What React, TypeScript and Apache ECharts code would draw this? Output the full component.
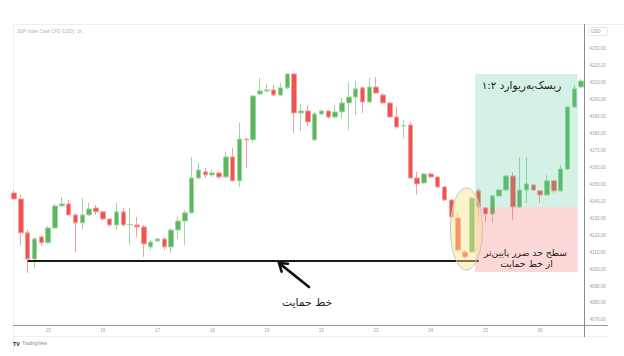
import React, { useEffect, useRef } from 'react';
import * as echarts from 'echarts';

// ---- data ----
const dayNames = ['12', '15', '16', '17', '18', '19', '22', '23', '24', '25', '26'];
const barsPerDay = [5, 8, 8, 8, 8, 8, 8, 8, 8, 8, 7];
const sessionHours = ['09', '10', '11', '12', '13', '14', '15', '16'];

const opens = [
  4145.0, 4141.4, 4121.4, 4106.0, 4119.0, 4115.5, 4124.3, 4137.3, 4138.5, 4132.0,
  4127.3, 4132.0, 4136.1, 4133.8, 4129.6, 4126.1, 4133.8, 4126.1, 4126.1, 4124.9,
  4113.1, 4116.6, 4117.8, 4113.1, 4123.1, 4128.4, 4133.2, 4153.8, 4157.4, 4155.6,
  4156.8, 4154.4, 4166.2, 4152.1, 4176.8, 4176.3, 4203.4, 4205.2, 4205.8, 4202.8,
  4207.0, 4215.2, 4192.2, 4193.4, 4176.3, 4191.6, 4193.4, 4189.8, 4192.8, 4198.1,
  4201.6, 4207.0, 4198.7, 4207.5, 4202.8, 4198.1, 4189.8, 4184.5, 4185.1, 4153.8,
  4150.9, 4156.2, 4154.4, 4148.5, 4140.8, 4130.2, 4110.1, 4110.1, 4146.2, 4136.1,
  4132.6, 4143.2, 4146.7, 4155.0, 4136.7, 4146.7, 4149.7, 4146.2, 4143.8, 4152.1,
  4146.2, 4159.1, 4195.7, 4207.5,
];
const closes = [
  4141.4, 4121.4, 4106.0, 4117.8, 4115.5, 4124.3, 4137.3, 4138.5, 4132.0, 4127.3,
  4132.0, 4135.5, 4133.8, 4129.6, 4126.1, 4133.8, 4126.1, 4126.4, 4124.9, 4114.9,
  4116.0, 4117.8, 4113.1, 4123.1, 4128.4, 4133.2, 4153.8, 4158.5, 4155.6, 4156.8,
  4154.4, 4166.2, 4152.1, 4176.8, 4176.3, 4202.2, 4205.2, 4205.8, 4202.8, 4207.0,
  4215.2, 4192.2, 4193.4, 4186.9, 4191.6, 4193.4, 4189.8, 4192.8, 4198.1, 4201.6,
  4206.4, 4198.7, 4207.5, 4204.0, 4198.1, 4189.8, 4183.9, 4184.8, 4153.8, 4150.3,
  4156.2, 4154.4, 4148.5, 4140.8, 4130.8, 4111.3, 4107.2, 4142.0, 4136.7, 4132.6,
  4143.2, 4146.7, 4155.0, 4136.7, 4146.7, 4150.3, 4146.7, 4143.8, 4152.1, 4146.2,
  4159.1, 4195.7, 4206.4, 4211.1,
];
const lows = [
  4140.8, 4113.7, 4097.7, 4100.7, 4113.7, 4115.2, 4123.7, 4136.7, 4131.4, 4110.1,
  4123.7, 4131.4, 4132.0, 4128.4, 4124.9, 4123.1, 4124.9, 4114.3, 4119.0, 4107.2,
  4111.3, 4116.0, 4111.3, 4109.6, 4117.8, 4114.3, 4132.6, 4153.2, 4153.8, 4154.4,
  4153.2, 4153.8, 4151.5, 4148.5, 4159.7, 4174.5, 4202.8, 4204.6, 4202.2, 4202.2,
  4206.4, 4180.4, 4181.6, 4184.5, 4175.7, 4191.0, 4188.7, 4188.7, 4189.2, 4182.2,
  4191.0, 4192.2, 4198.1, 4203.4, 4197.5, 4189.2, 4182.8, 4177.4, 4153.2, 4143.8,
  4150.3, 4153.8, 4147.9, 4140.2, 4130.2, 4109.6, 4106.6, 4109.6, 4130.8, 4127.9,
  4127.3, 4142.6, 4146.2, 4129.0, 4136.1, 4139.1, 4146.2, 4139.1, 4143.2, 4145.0,
  4145.6, 4158.5, 4195.1, 4207.0,
];
const highs = [
  4146.2, 4143.8, 4123.1, 4119.0, 4120.2, 4125.5, 4138.5, 4142.6, 4140.8, 4133.2,
  4142.0, 4139.1, 4137.9, 4134.3, 4130.2, 4139.1, 4136.1, 4136.1, 4130.8, 4126.1,
  4117.2, 4118.4, 4119.0, 4124.3, 4130.8, 4134.9, 4166.2, 4162.7, 4159.7, 4158.5,
  4157.4, 4169.2, 4171.5, 4186.3, 4177.4, 4202.8, 4212.9, 4209.3, 4208.7, 4209.9,
  4215.8, 4215.8, 4197.5, 4196.9, 4192.8, 4194.0, 4194.0, 4196.9, 4201.1, 4210.5,
  4211.1, 4208.1, 4212.9, 4213.4, 4204.0, 4198.7, 4195.7, 4188.1, 4186.9, 4157.4,
  4156.8, 4156.8, 4155.0, 4149.1, 4141.4, 4133.2, 4111.3, 4142.6, 4147.9, 4136.7,
  4143.8, 4147.3, 4155.6, 4157.4, 4166.2, 4166.2, 4150.3, 4146.7, 4155.6, 4152.6,
  4161.5, 4196.3, 4208.7, 4212.3,
];

const yTickValues = [4070, 4080, 4090, 4100, 4110, 4120, 4130, 4140, 4150, 4160, 4170, 4180, 4190, 4200, 4210, 4220, 4230];

const supportPrice = 4105.1;
const supportFrom = 2;
const supportTo = 68;
const entryPrice = 4136.7;
const targetPrice = 4215.2;
const stopPrice = 4098.3;
const rrStartIndex = 67.5;
const rrEndIndex = 83;
const ellipseIndex = 66;
const ellipseTop = 4147.9;
const ellipseBottom = 4099.5;

const titleText = 'S&P Index Cash CFD (USD), 1h,';
const rrText = 'ریسک‌به‌ریوارد ۱:۲';
const stopText1 = 'سطح حد ضرر پایین‌تر';
const stopText2 = 'از خط حمایت';
const supportText = 'خط حمایت';

// build categories
const categories: string[] = [];
const dayStartIdx: Record<number, string> = {};
dayNames.forEach((d, di) => {
  const n = barsPerDay[di];
  const hrs = di === 0 ? sessionHours.slice(sessionHours.length - n) : sessionHours.slice(0, n);
  if (di > 0) dayStartIdx[categories.length] = d;
  hrs.forEach((h) => categories.push(`${d} ${h}:00`));
});

const UP = '#5cb660';
const DOWN = '#ef5350';
const UP_W = '#9fd6a2';
const DOWN_W = '#f5a09e';

export default function App() {
  const ref = useRef<HTMLDivElement>(null);
  useEffect(() => {
    if (!ref.current) return;
    const chart = echarts.init(ref.current, null, { renderer: 'svg' });
    const candleData = opens.map((o, i) => [o, closes[i], lows[i], highs[i]]);
    chart.setOption({
      animation: false,
      backgroundColor: '#ffffff',
      grid: { left: 10.6, right: 39.5, top: 24, bottom: 31 },
      xAxis: {
        type: 'category',
        data: categories,
        boundaryGap: true,
        axisLine: { show: false },
        axisTick: { show: false },
        splitLine: { show: false },
        axisLabel: {
          interval: (idx: number) => dayStartIdx[idx] !== undefined,
          formatter: (v: string) => v.split(' ')[0],
          fontSize: 4.5,
          color: '#a0a0a0',
          fontFamily: 'Liberation Sans, Arial, sans-serif',
          margin: 3,
        },
      },
      yAxis: {
        type: 'value',
        position: 'right',
        min: 4067,
        max: 4244.7,
        axisLine: { show: false },
        axisTick: { show: false },
        splitLine: { show: false },
        axisLabel: {
          customValues: yTickValues,
          formatter: (v: number) => v.toFixed(2),
          fontSize: 4.5,
          color: '#a0a0a0',
          fontFamily: 'Liberation Sans, Arial, sans-serif',
          margin: 5,
        },
      },
      series: [
        {
          type: 'candlestick',
          data: candleData,
          barWidth: 5,
          itemStyle: {
            color: UP,
            color0: DOWN,
            borderColor: UP_W,
            borderColor0: DOWN_W,
            borderWidth: 1,
          },
          markLine: {
            silent: true,
            symbol: ['none', 'none'],
            label: { show: false },
            lineStyle: { color: '#1a1a1a', width: 2, type: 'solid' },
            data: [[{ coord: [supportFrom, supportPrice] }, { coord: [supportTo, supportPrice] }]],
          },
        },
      ],
    });

    const P = (i: number, v: number) => chart.convertToPixel({ seriesIndex: 0 }, [i, v]) as number[];
    const step = P(1, 4100)[0] - P(0, 4100)[0];
    const x0 = (P(Math.floor(rrStartIndex), entryPrice)[0] + P(Math.ceil(rrStartIndex), entryPrice)[0]) / 2;
    const x1 = P(rrEndIndex, entryPrice)[0] - step / 2;
    const yT = P(0, targetPrice)[1];
    const yE = P(0, entryPrice)[1];
    const yS = P(0, stopPrice)[1];
    const ec = P(ellipseIndex, ellipseTop);
    const eb = P(ellipseIndex, ellipseBottom);
    const gridR = P(categories.length - 1, 4100)[0] + step / 2;
    const gridB = P(0, 4067)[1];

    // arrow
    const tail = [309, 287];
    const tip = [279, 263];
    const dx = tip[0] - tail[0];
    const dy = tip[1] - tail[1];
    const len = Math.sqrt(dx * dx + dy * dy);
    const ux = dx / len;
    const uy = dy / len;
    const wing = (ang: number) => {
      const c = Math.cos(ang);
      const s = Math.sin(ang);
      const bx = -(ux * c - uy * s);
      const by = -(ux * s + uy * c);
      return [tip[0] + bx * 9, tip[1] + by * 9];
    };
    const w1 = wing(0.6);
    const w2 = wing(-0.6);

    const persian = 'DejaVu Sans, Noto Sans, sans-serif';

    chart.setOption({
      graphic: [
        { type: 'line', z: 1, shape: { x1: 13, y1: 24.5, x2: 624, y2: 24.5 }, style: { stroke: '#eeeeee', lineWidth: 1 } },
        { type: 'line', z: 1, shape: { x1: 13.5, y1: 24, x2: 13.5, y2: 352 }, style: { stroke: '#eeeeee', lineWidth: 1 } },
        { type: 'line', z: 1, shape: { x1: 13, y1: 336.5, x2: 608, y2: 336.5 }, style: { stroke: '#f0f0f0', lineWidth: 1 } },
        { type: 'line', z: 20, shape: { x1: 13, y1: gridB + 0.5, x2: 608, y2: gridB + 0.5 }, style: { stroke: '#9a9a9a', lineWidth: 1 } },
        { type: 'line', z: 20, shape: { x1: gridR, y1: 24, x2: gridR, y2: 337 }, style: { stroke: '#8a8a8a', lineWidth: 1 } },
        { type: 'text', z: 20, x: 17, y: 31, style: { text: titleText, fontSize: 4.5, fill: '#b0b0b0', fontFamily: 'Liberation Sans, Arial, sans-serif', verticalAlign: 'middle' } },
        { type: 'rect', z: 20, shape: { x: 588.5, y: 27.5, width: 19, height: 8, r: 1 }, style: { fill: '#ffffff', stroke: '#e6e6e6', lineWidth: 1 } },
        { type: 'text', z: 21, x: 591, y: 31.5, style: { text: 'USD', fontSize: 4.5, fill: '#999', fontFamily: 'Liberation Sans, Arial, sans-serif', verticalAlign: 'middle' } },
        // risk/reward boxes
        { type: 'rect', z: 10, shape: { x: x0, y: yT, width: x1 - x0, height: yE - yT }, style: { fill: 'rgba(85,200,150,0.25)' } },
        { type: 'rect', z: 10, shape: { x: x0, y: yE, width: x1 - x0, height: yS - yE }, style: { fill: 'rgba(243,95,95,0.25)' } },
        { type: 'text', z: 12, x: (x0 + x1) / 2 - 5, y: yT + 11, style: { text: rrText, fontSize: 10.5, fill: '#222', fontFamily: persian, align: 'center', verticalAlign: 'middle' } },
        { type: 'text', z: 12, x: (x0 + x1) / 2 - 1, y: 252, style: { text: stopText1, fontSize: 9.2, fill: '#1a1a1a', fontFamily: persian, align: 'center', verticalAlign: 'middle' } },
        { type: 'text', z: 12, x: (x0 + x1) / 2 + 0, y: 263.5, style: { text: stopText2, fontSize: 9.2, fill: '#1a1a1a', fontFamily: persian, align: 'center', verticalAlign: 'middle' } },
        // highlight ellipse
        { type: 'ellipse', z: 11, shape: { cx: ec[0] + 1.5, cy: (ec[1] + eb[1]) / 2, rx: 16, ry: (eb[1] - ec[1]) / 2 }, style: { fill: 'rgba(252,226,140,0.45)', stroke: '#c9c4b4', lineWidth: 1 } },
        // arrow + label
        { type: 'line', z: 12, shape: { x1: tail[0], y1: tail[1], x2: tip[0] + ux * -1, y2: tip[1] + uy * -1 }, style: { stroke: '#111', lineWidth: 2.6, lineCap: 'round' } },
        { type: 'polyline', z: 12, shape: { points: [w1, tip, w2] }, style: { stroke: '#111', lineWidth: 2.6, fill: 'none', lineJoin: 'miter', lineCap: 'round' } },
        { type: 'text', z: 12, x: 307, y: 302, style: { text: supportText, fontSize: 10.8, fill: '#222', fontFamily: persian, align: 'center', verticalAlign: 'middle' } },
        // logo
        { type: 'text', z: 20, x: 13, y: 343.5, style: { text: 'TV', fontSize: 5.5, fontWeight: 'bold', fill: '#222', fontFamily: 'Liberation Sans, Arial, sans-serif', verticalAlign: 'middle' } },
        { type: 'text', z: 20, x: 22, y: 343.5, style: { text: 'TradingView', fontSize: 4.5, fill: '#888', fontFamily: 'Liberation Sans, Arial, sans-serif', verticalAlign: 'middle' } },
      ],
    });
    return () => chart.dispose();
  }, []);
  return <div ref={ref} style={{ width: 624, height: 356, position: 'absolute', left: 0, top: 0 }} />;
}
